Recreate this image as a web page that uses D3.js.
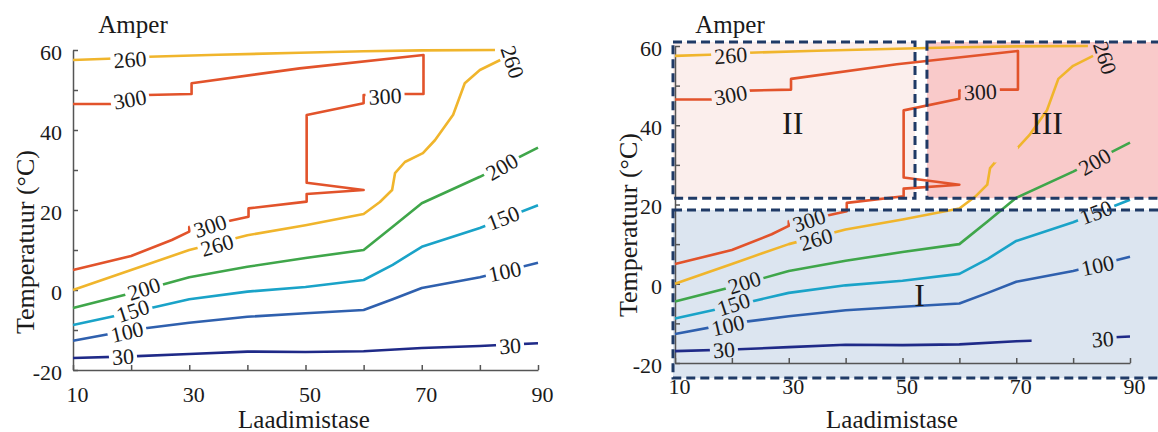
<!DOCTYPE html>
<meta charset="utf-8">
<head>
<style>
    body { margin: 0; background: #fff; }
    svg text { font-family: "Liberation Serif", "Times New Roman", serif; fill: #1a1a1a; }
</style>
</head>
<body>
<svg width="1158" height="432"></svg>
<script src="https://d3js.org/d3.v7.min.js"></script>
<script>

    //contour lines, [Laadimistase, Temperatuur]
    var lvl30 = [[10,-17],[20,-16.6],[30,-16],[40,-15.4],[50,-15.5],[60,-15.3],[70,-14.5],[80,-14],[90,-13.3]];
    var lvl100 = [[10,-12.7],[20,-10],[30,-8.2],[40,-6.7],[50,-5.8],[60,-5],[65,-2.3],[70,0.5],[80,3.2],[90,6.8]];
    var lvl150 = [[10,-8.75],[20,-5.6],[30,-2.3],[40,-0.4],[50,0.75],[60,2.5],[65,6.3],[70,10.8],[80,15.5],[90,21.2]];
    var lvl200 = [[10,-4.5],[20,-0.8],[30,3.2],[40,5.8],[50,8],[60,10],[65,15.8],[70,21.7],[80,28.3],[90,35.6]];
    var lvl260a = [[10,0],[20,5],[30,10],[40,13.7],[50,16.2],[60,19],[62.8,22],[64.9,25],[65.4,29.2],[67.1,32],
                   [70.2,34.2],[72.3,37.5],[75.4,43.8],[77.4,51.7],[80,55],[83.5,57.5]];
    var lvl260b = [[10,57.5],[16,57.8],[23,58.3],[35,58.8],[49,59.3],[60,59.7],[70,59.9],[82.6,60]];
    var lvl300 = [[10,5],[20,8.5],[27,12.5],[30,14.6],[30,15.8],[37,17.3],[40.2,18.3],[40.2,20.4],[50.2,22.1],
                  [50.2,24],[60,25],[50.2,26.8],[50.2,43.75],[60,46.7],[60,48.75],[66.8,49],[70.3,49],[70.3,58.75],
                  [49,55.4],[30.4,51.7],[30.4,49],[22.7,48.75],[16.7,46.5],[10,46.5]];

    var contours = [["30", lvl30], ["100", lvl100], ["150", lvl150], ["200", lvl200],
                    ["260", lvl260a], ["260", lvl260b], ["300", lvl300]];

    //contour labels: [level, x, y, angle]
    var labels = [["30",18.6,-16.7,-4],["100",19.3,-10.5,-13],["150",20.3,-5.2,-18],["200",22.2,0.3,-18],
                  ["260",34.8,11.2,-16],["300",33.6,16,-18],["300",63.7,48.4,-3],["300",19.8,47.6,-10],
                  ["260",19.8,57.6,-4],["260",85.6,57,72],["200",83.8,30.8,-30],["150",84,18,-21],
                  ["100",84.3,4.6,-12],["30",85.2,-14,-4]];

    //axis ticks
    var xTicks = [10,20,30,40,50,60,70,80,90];
    var xTickLabels = [10,30,50,70,90];
    var yTicks = [-20,-10,0,10,20,30,40,50,60];
    var yTickLabels = [-20,0,20,40,60];

    //regions on the second chart
    var regions = [
        {name: "I",   x0: 9.65, x1: 95.3, y0: -23.8, y1: 18.6, lx: 53,   ly: -2.8, fill: "#dce5f0"},
        {name: "II",  x0: 9.65, x1: 52.2, y0: 21.6,  y1: 61,   lx: 30.7, ly: 40.6, fill: "#fbeeec"},
        {name: "III", x0: 54.3, x1: 95.3, y0: 21.6,  y1: 61,   lx: 75.4, ly: 40.6, fill: "#f9caca"}
    ];
    //pieces of lines missing on the second chart
    var gaps = [{x0: 72.7, x1: 83, y0: -20, y1: -10}, {x0: 66.1, x1: 70.3, y0: 30.6, y1: 34.6}];

    var color = d3.scaleOrdinal()
            .domain(["30","100","150","200","260","300"])
            .range(["#1f2a88","#2f60ae","#1aa3c8","#3fa64a","#f0b52c","#e2532b"]);

    var svg = d3.select("svg");
    var defs = svg.append("defs");

    function drawChart(id, xr, yr, opts) {
        var x = d3.scaleLinear().domain([10, 90]).range(xr);
        var y = d3.scaleLinear().domain([-20, 60]).range(yr);
        var g = svg.append("g");

        //shaded regions
        if (opts.regions) {
            g.selectAll("rect.region")
                    .data(opts.regions)
                    .enter().append("rect")
                    .attr("x", function(d) { return x(d.x0); })
                    .attr("y", function(d) { return y(d.y1); })
                    .attr("width", function(d) { return x(d.x1) - x(d.x0); })
                    .attr("height", function(d) { return y(d.y0) - y(d.y1); })
                    .attr("fill", function(d) { return d.fill; });
        }

        //axes
        var xAxis = g.append("g")
                .attr("transform", "translate(0," + yr[0] + ")")
                .call(d3.axisBottom(x).tickValues(xTicks).tickSize(-5).tickSizeOuter(0)
                        .tickPadding(opts.padX)
                        .tickFormat(function(d) { return xTickLabels.indexOf(d) >= 0 ? d : ""; }));
        xAxis.selectAll("text").attr("dx", 4);

        var yAxis = g.append("g")
                .attr("transform", "translate(" + xr[0] + ",0)")
                .call(d3.axisLeft(y).tickValues(yTicks).tickSize(-5).tickSizeOuter(0)
                        .tickPadding(opts.padY)
                        .tickFormat(function(d) { return yTickLabels.indexOf(d) >= 0 ? d : ""; }));
        yAxis.selectAll("text").attr("dy", "0.42em");

        g.selectAll(".domain, .tick line").attr("stroke", "#555").attr("stroke-width", 1.5);
        g.selectAll(".tick text").attr("font-size", 22).attr("fill", "#222")
                .style("font-family", '"Liberation Serif", "Times New Roman", serif');

        //mask to cut the lines under labels
        var mask = defs.append("mask").attr("id", id + "-mask")
                .attr("maskUnits", "userSpaceOnUse")
                .attr("x", 0).attr("y", 0).attr("width", 1158).attr("height", 432);
        mask.append("rect").attr("width", 1158).attr("height", 432).attr("fill", "white");

        var line = d3.line()
                .x(function(d) { return x(d[0]); })
                .y(function(d) { return y(d[1]); });

        g.append("g")
                .attr("mask", "url(#" + id + "-mask)")
                .selectAll("path")
                .data(contours)
                .enter().append("path")
                .attr("d", function(d) { return line(d[1]); })
                .attr("fill", "none")
                .attr("stroke", function(d) { return color(d[0]); })
                .attr("stroke-width", 2.6)
                .attr("stroke-linejoin", "round");

        var txt = g.append("g").selectAll("text")
                .data(labels)
                .enter().append("text")
                .attr("transform", function(d) {
                    return "translate(" + x(d[1]) + "," + y(d[2]) + ") rotate(" + d[3] + ")";
                })
                .attr("text-anchor", "middle")
                .attr("dominant-baseline", "central")
                .attr("font-size", 22)
                .text(function(d) { return d[0]; });

        txt.each(function(d) {
            var w = this.getComputedTextLength() + 6;
            mask.append("rect")
                    .attr("x", -w / 2).attr("y", -8)
                    .attr("width", w).attr("height", 16)
                    .attr("transform", "translate(" + x(d[1]) + "," + y(d[2]) + ") rotate(" + d[3] + ")")
                    .attr("fill", "black");
        });

        if (opts.gaps) {
            opts.gaps.forEach(function(d) {
                mask.append("rect")
                        .attr("x", x(d.x0)).attr("y", y(d.y1))
                        .attr("width", x(d.x1) - x(d.x0)).attr("height", y(d.y0) - y(d.y1))
                        .attr("fill", "black");
            });
        }

        //dashed borders and region names
        if (opts.regions) {
            g.selectAll("rect.border")
                    .data(opts.regions)
                    .enter().append("rect")
                    .attr("x", function(d) { return x(d.x0); })
                    .attr("y", function(d) { return y(d.y1); })
                    .attr("width", function(d) { return x(d.x1) - x(d.x0); })
                    .attr("height", function(d) { return y(d.y0) - y(d.y1); })
                    .attr("fill", "none")
                    .attr("stroke", "#1f3a66")
                    .attr("stroke-width", 3)
                    .attr("stroke-dasharray", "9,5");
            g.selectAll("text.region")
                    .data(opts.regions)
                    .enter().append("text")
                    .attr("x", function(d) { return x(d.lx); })
                    .attr("y", function(d) { return y(d.ly); })
                    .attr("text-anchor", "middle")
                    .attr("dominant-baseline", "central")
                    .attr("font-size", 32)
                    .text(function(d) { return d.name; });
        }

        //titles
        g.append("text")
                .attr("x", opts.amperX).attr("y", 33)
                .attr("text-anchor", "middle")
                .attr("font-size", 25)
                .text("Amper");
        g.append("text")
                .attr("transform", "translate(" + opts.yTitle[0] + "," + opts.yTitle[1] + ") rotate(-90)")
                .attr("text-anchor", "middle")
                .attr("dominant-baseline", "central")
                .attr("font-size", 26)
                .text("Temperatuur (°C)");
        g.append("text")
                .attr("x", opts.xTitleX).attr("y", 428)
                .attr("text-anchor", "middle")
                .attr("font-size", 25)
                .text("Laadimistase");
    }

    drawChart("left", [73, 538], [370, 50], {
        padX: 16, padY: 11, amperX: 133, yTitle: [25, 242], xTitleX: 304
    });
    drawChart("right", [675, 1130], [363, 46], {
        padX: 15, padY: 13, amperX: 730, yTitle: [628, 225], xTitleX: 892,
        regions: regions, gaps: gaps
    });

</script>
</body>
